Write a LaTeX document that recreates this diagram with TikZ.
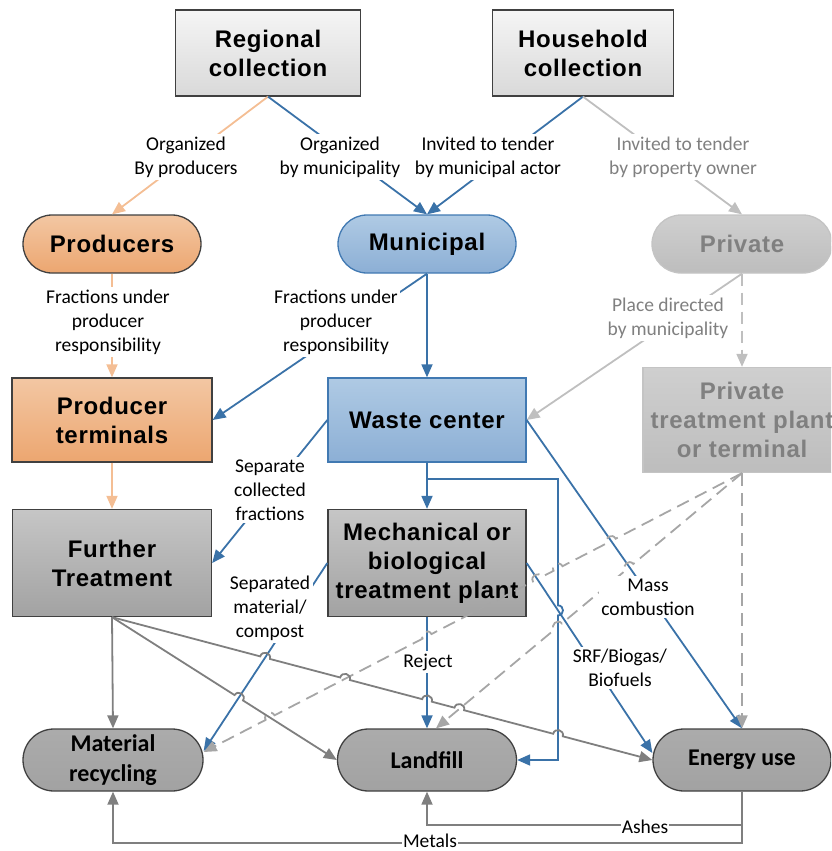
\documentclass[tikz,border=0pt]{standalone}
\usepackage{fontspec}
\setmainfont{Carlito}
\newfontfamily\boxfont[LetterSpace=3]{Liberation Sans}
\usetikzlibrary{arrows.meta,shapes.misc,calc}
\definecolor{orln}{HTML}{F4BE94}
\definecolor{orA}{HTML}{F3C7A3}
\definecolor{orB}{HTML}{ECA670}
\definecolor{blln}{HTML}{3A72A8}
\definecolor{blA}{HTML}{AFCAE4}
\definecolor{blB}{HTML}{8CAFD5}
\definecolor{bldraw}{HTML}{4179B2}
\definecolor{grA}{HTML}{C6C6C6}
\definecolor{grB}{HTML}{A2A2A2}
\definecolor{dk}{HTML}{404040}
\definecolor{ltA}{HTML}{F5F5F5}
\definecolor{ltB}{HTML}{D9D9D9}
\definecolor{pvA}{HTML}{CFCFCF}
\definecolor{pvB}{HTML}{BDBDBD}
\definecolor{pvdraw}{HTML}{C4C4C4}
\definecolor{pvtext}{HTML}{808080}
\definecolor{pvln}{HTML}{BFBFBF}
\definecolor{dashln}{HTML}{A6A6A6}
\definecolor{ftln}{HTML}{7F7F7F}
\tikzset{
  base/.style={draw=dk, line width=1.3pt, align=center, inner sep=0pt,
    font=\boxfont\bfseries\fontsize{24}{29}\selectfont},
  rbox/.style={base, rectangle},
  pillbox/.style={base, rounded rectangle},
  fillor/.style={top color=orA, bottom color=orB},
  fillbl/.style={top color=blA, bottom color=blB, draw=bldraw},
  fillgr/.style={top color=grA, bottom color=grB},
  filllt/.style={top color=ltA, bottom color=ltB},
  fillpv/.style={top color=pvA, bottom color=pvB, draw=pvdraw, text=pvtext},
  fillbt/.style={top color=grB!90, bottom color=grB, font=\bfseries\fontsize{24}{30}\selectfont},
  arr/.style={-{Triangle[length=13pt,width=11pt]}, line width=1.8pt},
  orl/.style={arr, draw=orln},
  bll/.style={arr, draw=blln},
  pvl/.style={arr, draw=pvln},
  dsl/.style={arr, draw=dashln, dash pattern=on 13pt off 7pt},
  ftl/.style={arr, draw=ftln},
  lbl/.style={fill=white, inner sep=2.5pt, align=center, font=\fontsize{19.5}{24}\selectfont},
  glbl/.style={lbl, text=pvtext},
  hop/.style 2 args={insert path={ -- ($(#1)!5pt!180:(#2)$)
     .. controls ($(#1)!5pt!180:(#2)!6.6pt!90:(#1)$) and ($(#1)!5pt!(#2)!6.6pt!-90:(#1)$)
     .. ($(#1)!5pt!(#2)$)}},
  hopr/.style 2 args={insert path={ -- ($(#1)!5pt!180:(#2)$)
     .. controls ($(#1)!5pt!180:(#2)!6.6pt!-90:(#1)$) and ($(#1)!5pt!(#2)!6.6pt!90:(#1)$)
     .. ($(#1)!5pt!(#2)$)}},
}
\begin{document}
\begin{tikzpicture}[x=1pt,y=-1pt]
\useasboundingbox (0,0) rectangle (831,851);
\clip (0,0) rectangle (831,851);
% nodes
\node[rbox, filllt, minimum width=185, minimum height=86] (reg) at (268,53) {Regional\\collection};
\node[rbox, filllt, minimum width=181, minimum height=86] (hh) at (583,53) {Household\\collection};
\node[pillbox, fillor, minimum width=178, minimum height=58] (prod) at (112,244) {Producers};
\node[pillbox, fillbl, minimum width=178, minimum height=58] (mun) at (427,244) {Municipal};
\node[pillbox, fillpv, minimum width=180, minimum height=58] (priv) at (742,244) {Private};
\node[rbox, fillor, minimum width=200, minimum height=84] (pterm) at (112,420) {Producer\\terminals};
\node[rbox, fillbl, minimum width=198, minimum height=84] (wc) at (427,420) {Waste center};
\node[rbox, fillpv, minimum width=198, minimum height=105] (ptp) at (742,420) {Private\\treatment plant\\or terminal};
\node[rbox, fillgr, minimum width=199, minimum height=107] (ft) at (112,563) {Further\\Treatment};
\node[rbox, fillgr, minimum width=198, minimum height=107] (mbt) at (427,563) {Mechanical or\\biological\\treatment plant};
\node[pillbox, fillbt, minimum width=180, minimum height=62] (mr) at (113,760) {Material\\recycling};
\node[pillbox, fillbt, minimum width=179, minimum height=62] (lf) at (427,760) {Landfill};
\node[pillbox, fillbt, minimum width=178, minimum height=62] (eu) at (742,760) {Energy use};
% end points and bends
\coordinate (FTs) at (ft.south);
\coordinate (EUw) at (eu.west);
\coordinate (LFw) at (lf.west);
\coordinate (MBTw) at (mbt.west);
\coordinate (MBTs) at (mbt.south);
\coordinate (MBTe) at (mbt.east);
\coordinate (MRb) at ([yshift=9pt]mr.east);
\coordinate (MRd) at ([yshift=8pt]mr.east);
\coordinate (LFn) at (lf.north);
\coordinate (LFd) at ([xshift=9pt]lf.north);
\coordinate (PTPs) at (ptp.south);
\coordinate (EUs) at ([yshift=7pt]eu.west);
\coordinate (EUn) at (eu.north);
\coordinate (WCe) at (wc.east);
\coordinate (wcT) at (558,479);
\coordinate (wcB) at (558,760);
\coordinate (ashC) at (742,825);
\coordinate (metC) at (742,843);
% crossing points (line jumps)
\coordinate (x1) at (intersection of FTs--EUw and MBTw--MRb);
\coordinate (x2) at (intersection of FTs--EUw and PTPs--MRd);
\coordinate (x3) at (intersection of FTs--EUw and MBTs--LFn);
\coordinate (x4) at (intersection of FTs--EUw and PTPs--LFd);
\coordinate (x5) at (intersection of FTs--EUw and wcT--wcB);
\coordinate (y1) at (intersection of FTs--LFw and MBTw--MRb);
\coordinate (d1) at (intersection of PTPs--MRd and WCe--EUn);
\coordinate (d2) at (intersection of PTPs--MRd and wcT--wcB);
\coordinate (d3) at (intersection of PTPs--MRd and MBTe--EUs);
\coordinate (d4) at (intersection of PTPs--MRd and MBTs--LFn);
\coordinate (d5) at (intersection of PTPs--MRd and FTs--LFw);
\coordinate (e1) at (intersection of PTPs--LFd and WCe--EUn);
\coordinate (e2) at (intersection of PTPs--LFd and wcT--wcB);
\coordinate (v1) at (intersection of wcT--wcB and MBTe--EUs);
% connectors
\draw[orl] (reg.south) -- (prod.north);
\draw[bll] (reg.south) -- (mun.north);
\draw[bll] (hh.south) -- (mun.north);
\draw[pvl] (hh.south) -- (priv.north);
\draw[orl] (prod.south) -- (pterm.north);
\draw[bll] (mun.south) -- (pterm.east);
\draw[bll] (mun.south) -- (wc.north);
\draw[pvl] (priv.south) -- (wc.east);
\draw[pvl, dash pattern=on 12pt off 7pt] (priv.south) -- (ptp.north);
\draw[orl] (pterm.south) -- (ft.north);
\draw[bll] (wc.west) -- (ft.east);
\draw[bll] (wc.south) -- (mbt.north);
\draw[bll] (wc.south) |- (wcT) [hop={v1}{wcB}] -- (wcB) -- (lf.east);
\draw[bll] (wc.east) -- (eu.north);
\draw[bll] (mbt.west) -- (MRb);
\draw[bll] (mbt.south) -- (lf.north);
\draw[bll] (mbt.east) -- (EUs);
\draw[dsl] (ptp.south) -- (eu.north);
\draw[dsl] (ptp.south) [hopr={d1}{MRd}] [hopr={d2}{MRd}] [hopr={d3}{MRd}] [hopr={d4}{MRd}] [hopr={d5}{MRd}] -- (MRd);
\draw[dsl] (ptp.south) [hopr={e1}{LFd}] [hopr={e2}{LFd}] -- (LFd);
\draw[ftl] (ft.south) -- (mr.north);
\draw[ftl] (ft.south) [hop={y1}{LFw}] -- (lf.west);
\draw[ftl] (ft.south) [hop={x1}{EUw}] [hop={x2}{EUw}] [hop={x3}{EUw}] [hop={x4}{EUw}] [hop={x5}{EUw}] -- (eu.west);
\draw[ftl] (eu.south) -- (ashC) -| (lf.south);
\draw[ftl] (eu.south) -- (metC) -| (mr.south);
% labels
\node[lbl] (l1) at (186,157) {Organized\\By producers};
\node[lbl] (l2) at (340,157) {Organized\\by municipality};
\node[lbl] (l3) at (488,157) {Invited to tender\\by municipal actor};
\node[glbl] (l4) at (683,157) {Invited to tender\\by property owner};
\node[lbl] (l5) at (108,322) {Fractions under\\producer\\responsibility};
\node[lbl] (l6) at (336,322) {Fractions under\\producer\\responsibility};
\node[glbl] (l7) at (668,318) {Place directed\\by municipality};
\node[lbl] (l8) at (270,490) {Separate\\collected\\fractions};
\node[lbl] (l9) at (270,608) {Separated\\material/\\compost};
\node[lbl] (l10) at (428,662) {Reject};
\node[lbl] (l11) at (620,668) {SRF/Biogas/\\Biofuels};
\node[lbl] (l12) at (648,597) {Mass\\combustion};
\node[lbl, inner sep=1pt] (l13) at (645,827) {Ashes};
\node[lbl, inner sep=1pt] (l14) at (430,841) {Metals};
\end{tikzpicture}
\end{document}
